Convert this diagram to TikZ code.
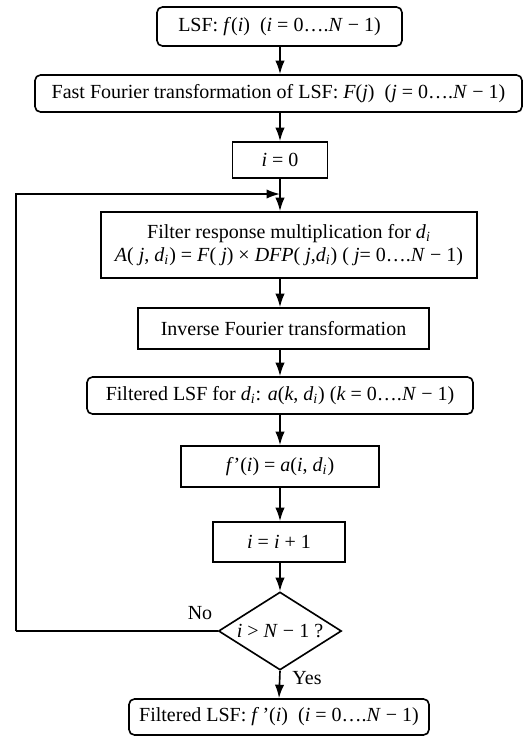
\documentclass[tikz,border=0pt]{standalone}
\usepackage{fontspec}
\setmainfont{Liberation Serif}
\usetikzlibrary{positioning,arrows.meta,shapes.geometric}
\newcommand{\vi}[1]{\textit{#1}}
\newcommand{\sbi}{\textsubscript{\textit{i}}}

\begin{document}
\begin{tikzpicture}[x=0.55pt, y=-0.55pt,
  font=\fontsize{11}{12.5}\selectfont,
  box/.style  = {draw=black, line width=0.9pt, align=center, inner sep=0pt},
  rbox/.style = {box, rounded corners=3pt},
  cond/.style = {draw=black, line width=0.9pt, diamond, aspect=1.6, inner sep=0pt, align=center},
  tag/.style  = {font=\fontsize{11}{12.5}\selectfont},
  arr/.style  = {-{Latex[length=2.6mm,width=1.8mm]}, line width=0.9pt},
  line/.style = {line width=0.9pt}]
\useasboundingbox (0,0) rectangle (532,738);

% main column
\node[rbox, minimum width=134.75pt, minimum height=21.45pt] (lsf) at (279.5,26.5)
  {LSF: \vi{f}(\vi{i})\ \ (\vi{i} = 0….\vi{N} − 1)};
\node[rbox, minimum width=267.85pt, minimum height=20.35pt] (fft) at (278.5,93.5)
  {Fast Fourier transformation of LSF: \vi{F}(\vi{j})\ \ (\vi{j} = 0….\vi{N} − 1)};
\node[box, minimum width=52.25pt, minimum height=19.8pt] (init) at (280,160)
  {\vi{i} = 0};
\node[box, minimum width=206.8pt, minimum height=36.3pt] (mult) at (289,245)
  {Filter response multiplication for \vi{d}\sbi\\
   \vi{A}( \vi{j}, \vi{d}\sbi) = \vi{F}( \vi{j}) × \vi{DFP}( \vi{j},\vi{d}\sbi) ( \vi{j}= 0….\vi{N} − 1)};
\node[box, minimum width=160.05pt, minimum height=22.55pt] (ift) at (283.5,328.5)
  {Inverse Fourier transformation};
\node[rbox, minimum width=212.3pt, minimum height=20.35pt] (filt) at (280,395.5)
  {Filtered LSF for \vi{d}\sbi: \vi{a}(\vi{k}, \vi{d}\sbi) (\vi{k} = 0….\vi{N} − 1)};
\node[box, minimum width=108.9pt, minimum height=22.55pt] (pick) at (280,466.5)
  {\vi{f}’(\vi{i}) = \vi{a}(\vi{i}, \vi{d}\sbi)};
\node[box, minimum width=72.6pt, minimum height=22pt] (incr) at (279,542)
  {\vi{i} = \vi{i} + 1};
\node[cond, minimum width=67.65pt, minimum height=42.9pt] (test) at (280,631)
  {\vi{i} > \vi{N} − 1 ?};
\node[rbox, minimum width=165pt, minimum height=19.8pt] (out) at (279,717)
  {Filtered LSF: \vi{f}\,’(\vi{i})\ \ (\vi{i} = 0….\vi{N} − 1)};

\coordinate (axis) at (280,0);
\coordinate (join) at (280,194);
\coordinate (back) at (16,631);

\foreach \a/\b in {lsf/fft, fft/init, init/mult, mult/ift, ift/filt, filt/pick, pick/incr, incr/test}
  \draw[arr] (\a.south -| axis) -- (\b.north -| axis);
\draw[arr] (test.south) -- (out.north);

% loop back when the test fails
\draw[line] (test.west) -- (back);
\draw[arr] (back) |- (join);

\node[tag] (no)  at (200,613) {No};
\node[tag] (yes) at (307,678) {Yes};

\end{tikzpicture}
\end{document}
